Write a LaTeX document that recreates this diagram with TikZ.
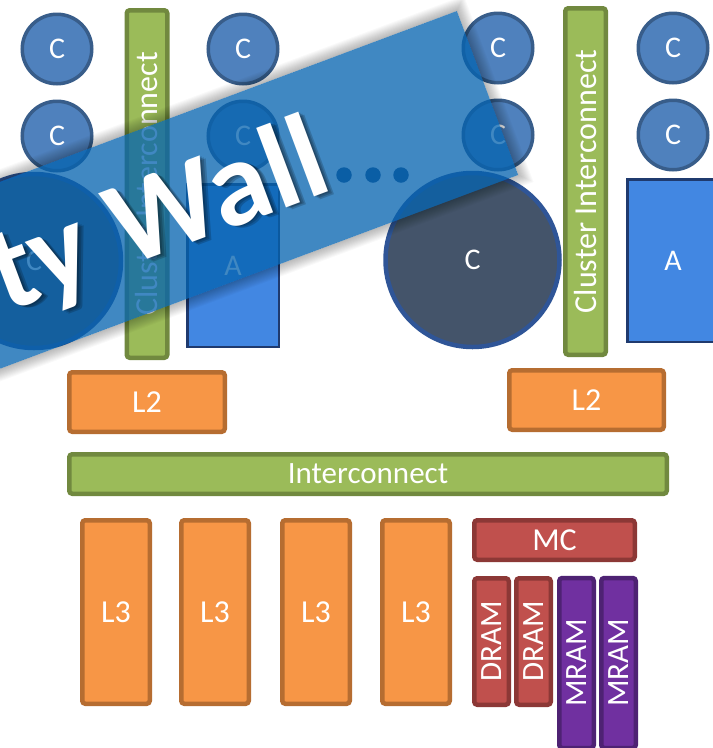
\documentclass[tikz,border=0pt]{standalone}
\usepackage{fontspec}
\usepackage{graphicx}
\setmainfont{Carlito}
\usetikzlibrary{calc}
\pgfdeclarelayer{background}
\pgfsetlayers{background,main}

\definecolor{orangeF}{HTML}{F79646}
\definecolor{orangeD}{HTML}{B66D31}
\definecolor{greenF}{HTML}{9BBB59}
\definecolor{greenD}{HTML}{71893F}
\definecolor{redF}{HTML}{C0504D}
\definecolor{redD}{HTML}{8C3836}
\definecolor{purpF}{HTML}{7030A0}
\definecolor{purpD}{HTML}{4E2273}
\definecolor{coreF}{HTML}{4F81BD}
\definecolor{coreD}{HTML}{385D8A}
\definecolor{bigF}{HTML}{44546A}
\definecolor{bigD}{HTML}{2F5597}
\definecolor{accF}{HTML}{4287E2}
\definecolor{accD}{HTML}{1F3A6E}
\definecolor{bannerF}{HTML}{0563AF}
\definecolor{dotF}{HTML}{1E5289}

\tikzset{
  lbl/.style={text=white, inner sep=0pt, font=\fontsize{30}{36}\selectfont},
  blk/.style={lbl, rectangle, rounded corners=3pt, line width=4.5pt,
    font=\fontsize{32}{38}\selectfont},
  cache/.style={blk, draw=orangeD, fill=orangeF},
  net/.style={blk, draw=greenD, fill=greenF},
  memctl/.style={blk, draw=redD, fill=redF},
  mram/.style={blk, draw=purpD, fill=purpF},
  core/.style={lbl, circle, draw=coreD, fill=coreF, line width=3.5pt, minimum size=69.5pt},
  bigcore/.style={lbl, circle, draw=bigD, fill=bigF, line width=4.5pt, minimum size=174pt},
  accel/.style={lbl, rectangle, draw=accD, fill=accF, line width=2.5pt,
    minimum width=91.5pt, minimum height=162.5pt},
  moredot/.style={circle, fill=dotF, minimum size=15.5pt, inner sep=0pt},
  wire/.style={line width=1.8pt, black},
  bannertext/.style={transform shape, anchor=base east, inner sep=0pt,
    font=\bfseries\fontsize{121}{126}\selectfont},
}

\begin{document}
\begin{tikzpicture}[x=1pt, y=-1pt]
\useasboundingbox (0,0) rectangle (713,748);
\clip (0,0) rectangle (713,748);
\fill[white] (0,0) rectangle (713,748);

% ---------- left cluster ----------
\node[core] (cL1) at (57,49) {C};
\node[core] (cL2) at (243,49) {C};
\node[core] (cL3) at (57,136) {C};
\node[core] (cL4) at (243,136) {C};
\node[bigcore] (bigL) at (34,261) {C};
\node[accel] (aL) at (233,265.5) {A};
\node[net, minimum width=40.5pt, minimum height=347.5pt] (barL) at (147,184)
  {\rotatebox{90}{Cluster Interconnect}};

% ---------- right cluster ----------
\node[core] (cR1) at (498,48) {C};
\node[core] (cR2) at (673,48) {C};
\node[core] (cR3) at (498,135) {C};
\node[core] (cR4) at (673,135) {C};
\node[bigcore] (bigR) at (472.5,260) {C};
\node[accel] (aR) at (673,260.5) {A};
\node[net, minimum width=40.5pt, minimum height=346.5pt] (barR) at (585.5,181.5)
  {\rotatebox{90}{Cluster Interconnect}};

% more clusters follow
\node[moredot] (dot1) at (344,175) {};
\node[moredot] (dot2) at (373,175) {};
\node[moredot] (dot3) at (401,175) {};

% ---------- shared levels ----------
\node[cache, minimum width=155.5pt, minimum height=59.5pt] (L2a) at (147,402) {L2};
\node[cache, minimum width=154.5pt, minimum height=59.5pt] (L2b) at (586.5,400) {L2};
\node[net, minimum width=597.5pt, minimum height=39.5pt] (IC) at (368,474)
  {\fontsize{31}{36}\selectfont Interconnect};
\foreach \n/\x in {L3a/116, L3b/215, L3c/316, L3d/416}
  \node[cache, minimum width=67.5pt, minimum height=183.5pt] (\n) at (\x,612) {L3};
\node[memctl, minimum width=160.5pt, minimum height=39.5pt] (MC) at (554.5,540) {MC};
\node[memctl, minimum width=34.5pt, minimum height=126.5pt] (D1) at (491.5,641.5)
  {\rotatebox{90}{\fontsize{31}{36}\selectfont DRAM}};
\node[memctl, minimum width=34.5pt, minimum height=126.5pt] (D2) at (533.5,641.5)
  {\rotatebox{90}{\fontsize{31}{36}\selectfont DRAM}};
\node[mram, minimum width=34.5pt, minimum height=170pt] (M1) at (576.5,663)
  {\rotatebox{90}{\fontsize{31}{36}\selectfont MRAM}};
\node[mram, minimum width=34.5pt, minimum height=170pt] (M2) at (618.5,663)
  {\rotatebox{90}{\fontsize{31}{36}\selectfont MRAM}};

% ---------- connectors ----------
\coordinate (rowL3) at (0,217);
\coordinate (rowL4) at (0,302);
\coordinate (rowR3) at (0,215);
\coordinate (rowR4) at (0,300);
\begin{pgfonlayer}{background}
  \draw[wire] (cL1) -- (cL2);
  \draw[wire] (cL3) -- (cL4);
  \draw[wire] (bigL.center |- rowL3) -- (aL.center |- rowL3);
  \draw[wire] (bigL.center |- rowL4) -- (aL.center |- rowL4);
  \draw[wire] (cR1) -- (cR2);
  \draw[wire] (cR3) -- (cR4);
  \draw[wire] (bigR.center |- rowR3) -- (aR.center |- rowR3);
  \draw[wire] (bigR.center |- rowR4) -- (aR.center |- rowR4);
  \draw[wire] (barL.south) -- (barL.south |- L2a.north);
  \draw[wire] (barR.south) -- (barR.south |- L2b.north);
  \draw[wire] (L2a.south) -- (L2a.south |- IC.north);
  \draw[wire] (L2b.south) -- (L2b.south |- IC.north);
  \foreach \n in {L3a, L3b, L3c, L3d, MC}
    \draw[wire] (\n.north) -- (\n.north |- IC.south);
  \foreach \n in {D1, D2, M1, M2}
    \draw[wire] (\n.north) -- (\n.north |- MC.south);
\end{pgfonlayer}

% ---------- tilted banner with soft glow ----------
\begin{scope}[shift={(487.5,93)}, rotate=20.5]
  \foreach \k in {1,...,12}
    \fill[black, opacity=0.022, even odd rule]
      (-800-\k,-87.5-\k) rectangle (\k,87.5+\k)
      (-800,-87.5) rectangle (0,87.5);
  \fill[bannerF, opacity=0.76] (-800,-87.5) rectangle (0,87.5);
  \foreach \d in {1.5,3,4.5}
    \node[bannertext, text=black, opacity=0.18] at (-176+\d,37+\d) {ty Wall};
  \node[bannertext, text=white] (wallword) at (-176,37) {ty Wall};
\end{scope}
\end{tikzpicture}
\end{document}
